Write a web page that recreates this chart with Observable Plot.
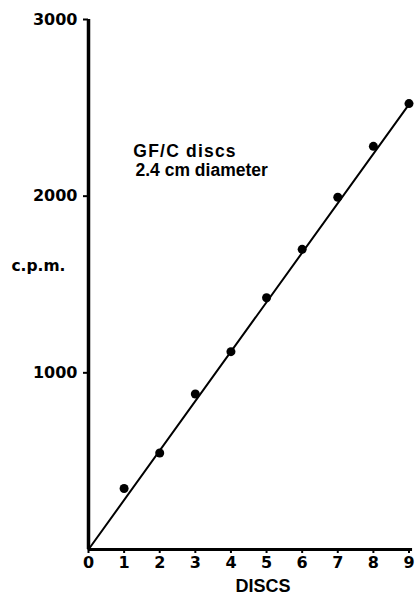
<!DOCTYPE html>
<html>
<head>
<meta charset="utf-8">
<script src="https://cdn.jsdelivr.net/npm/d3@7"></script>
<script src="https://cdn.jsdelivr.net/npm/@observablehq/plot@0.6"></script>
<style>
  html, body { margin: 0; padding: 0; background: #fff; }
</style>
</head>
<body>
<div id="chart"></div>
<script>
// Data
const discs = [1, 2, 3, 4, 5, 6, 7, 8, 9];
const cpm = [345, 546, 880, 1120, 1425, 1699, 1994, 2282, 2524];
const fitDiscs = [0, 9];
const fitCpm = [0, 2520];
const xTicks = [0, 1, 2, 3, 4, 5, 6, 7, 8, 9];
const yTicks = [1000, 2000, 3000];
const yLabel = "c.p.m.";
const xLabel = "DISCS";
const noteLines = ["GF/C discs", "2.4 cm diameter"];

const points = discs.map((d, i) => ({x: d, y: cpm[i]}));
const fit = fitDiscs.map((d, i) => ({x: d, y: fitCpm[i]}));

const chart = Plot.plot({
  width: 417,
  height: 596,
  marginLeft: 88,
  marginRight: 8.5,
  marginTop: 19,
  marginBottom: 47,
  style: {fontFamily: "DejaVu Sans", fontWeight: "bold", fontSize: "16px", color: "#000", background: "#fff"},
  x: {domain: [0, 9]},
  y: {domain: [0, 3000]},
  marks: [
    Plot.axisY({ticks: yTicks, tickFormat: d => String(d), tickSize: 5, tickPadding: 6, strokeWidth: 2, label: null}),
    Plot.axisX({ticks: xTicks, tickFormat: d => String(d), tickSize: 4, tickPadding: 3, strokeWidth: 2, label: null}),
    Plot.ruleX([0], {y1: 0, y2: 3000, strokeWidth: 3.5, stroke: "#000"}),
    Plot.ruleY([0], {x1: 0, x2: 9.1, strokeWidth: 3, stroke: "#000"}),
    Plot.line(fit, {x: "x", y: "y", stroke: "#000", strokeWidth: 2}),
    Plot.dot(points, {x: "x", y: "y", r: 4.5, fill: "#000", stroke: "none"}),
    Plot.text([yLabel], {x: 0, y: 1602, dx: -23, text: d => d, textAnchor: "end", fontFamily: "DejaVu Sans", fontWeight: "bold", fontSize: 15.5}),
    Plot.text([xLabel], {x: 4.9, y: 0, dy: 37, text: d => d, fontFamily: "Liberation Sans", fontWeight: "bold", fontSize: 18}),
    Plot.text([noteLines[0]], {x: 1.26, y: 2252, text: d => d, textAnchor: "start", fontFamily: "Liberation Sans", fontWeight: "bold", fontSize: 17.5}),
    Plot.text([noteLines[1]], {x: 1.32, y: 2145, text: d => d, textAnchor: "start", fontFamily: "Liberation Sans", fontWeight: "bold", fontSize: 17.5})
  ]
});
d3.select(chart).selectAll("text")
  .filter(function() { return this.textContent === noteLines[0]; })
  .attr("letter-spacing", "1.2px");
document.getElementById("chart").appendChild(chart);
</script>
</body>
</html>
